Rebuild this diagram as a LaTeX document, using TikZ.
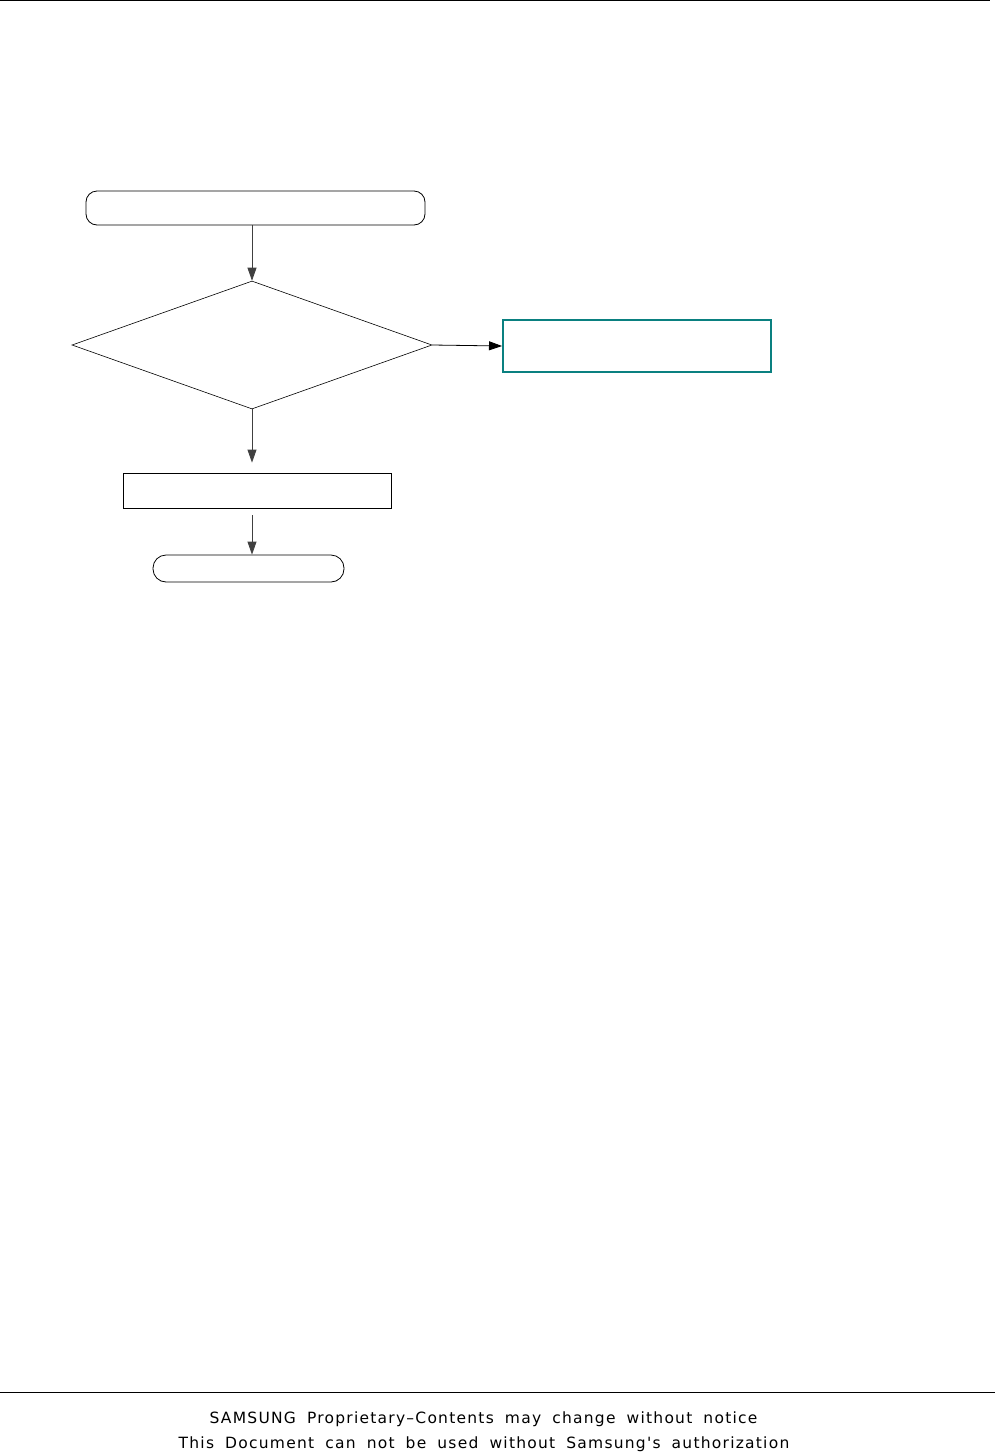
\documentclass[tikz,border=0pt]{standalone}
\usepackage{fontspec}
\setmainfont{Liberation Sans}
\newfontfamily\footfont[LetterSpace=8,WordSpace=1.8]{DejaVu Sans}
\usepackage{xcolor}
\usetikzlibrary{arrows.meta,positioning,shapes.geometric}
\definecolor{chkTeal}{HTML}{0A8080}
\definecolor{ink}{HTML}{000000}

\begin{document}
\begin{tikzpicture}[x=1pt,y=-1pt,>={Triangle[length=13pt,width=9pt]},
  line width=0.8pt,
  term/.style={draw=ink,rounded corners=11pt,inner sep=0pt},
  procbox/.style={draw=ink,inner sep=0pt},
  decide/.style={draw=ink,diamond,inner sep=0pt,line width=0.6pt},
  flow/.style={->,draw=ink!75,line width=0.8pt},
  foot/.style={font=\footfont\fontsize{15.5}{18}\selectfont,anchor=base}]
\useasboundingbox (0,0) rectangle (995,1454);
% page rules
\draw[line width=1pt] (0,0.5) -- (990,0.5);
\draw[line width=1pt] (0,1392) -- (995,1392);
% flow chart
\node[term,minimum width=339pt,minimum height=34pt] (start) at (255.5,208) {};
\node[decide,minimum width=360pt,minimum height=128pt] (dec) at (252,345) {};
\node[procbox,draw=chkTeal,line width=2pt,minimum width=268pt,minimum height=52pt] (fix) at (637,346) {};
\node[procbox,minimum width=268pt,minimum height=35pt] (chk) at (257,490.5) {};
\node[term,rounded corners=13pt,minimum width=191pt,minimum height=27pt] (stop) at (248.5,568.5) {};
% arrows
\draw[flow] (start.south -| dec.north) -- (dec.north);
\draw[flow,draw=ink] (dec.east) -- (fix.west);
\draw[flow,shorten >=10pt] (dec.south) -- (dec.south |- chk.north);
\draw[flow,shorten <=7pt] (dec.south |- chk.south) -- (dec.south |- stop.north);
% footer
\node[foot] (ftA) at (483.5,1423) {SAMSUNG Proprietary–Contents may change without notice};
\node[foot] (ftB) at (484,1448) {This Document can not be used without Samsung's authorization};
\end{tikzpicture}
\end{document}
